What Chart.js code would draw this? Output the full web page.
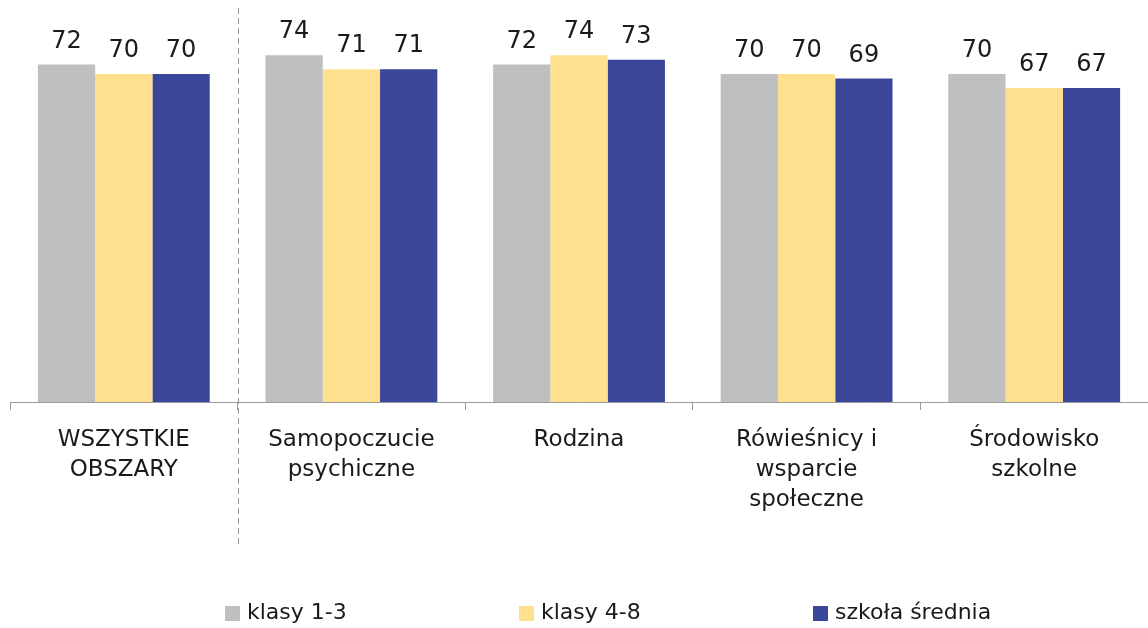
<!DOCTYPE html>
<html>
<head>
<meta charset="utf-8">
<script src="https://cdn.jsdelivr.net/npm/chart.js@4.4.0/dist/chart.umd.min.js"></script>
<style>
  html, body { margin: 0; padding: 0; background: #fff; }
  #wrap { width: 1148px; height: 628px; }
</style>
</head>
<body>
<div id="wrap"><canvas id="wellbeingChart" width="1148" height="628"></canvas></div>
<script>
  'use strict'

  var categories = [
    ['WSZYSTKIE', 'OBSZARY'],
    ['Samopoczucie', 'psychiczne'],
    ['Rodzina'],
    ['Rówieśnicy i', 'wsparcie', 'społeczne'],
    ['Środowisko', 'szkolne']
  ];
  var seriesNames = ['klasy 1-3', 'klasy 4-8', 'szkoła średnia'];
  var grades13 = [72, 74, 72, 70, 70];
  var grades48 = [70, 71, 74, 70, 67];
  var highSchool = [70, 71, 73, 69, 67];
  var colors = ['#BFBFBF', '#FFE08F', '#3A4698'];

  var FONT = '"DejaVu Sans", sans-serif';

  // value above each bar
  var valueLabels = {
    id: 'valueLabels',
    afterDatasetsDraw: function (chart) {
      var ctx = chart.ctx;
      ctx.save();
      ctx.fillStyle = '#1a1a1a';
      ctx.font = '24px ' + FONT;
      ctx.textAlign = 'center';
      ctx.textBaseline = 'bottom';
      chart.data.datasets.forEach(function (ds, i) {
        chart.getDatasetMeta(i).data.forEach(function (bar, j) {
          ctx.fillText(ds.data[j], bar.x, bar.y - 11);
        });
      });
      ctx.restore();
    }
  };

  // dashed separator after the first group + legend row at the bottom
  var extras = {
    id: 'extras',
    afterDraw: function (chart) {
      var ctx = chart.ctx;
      var x = chart.scales.x;
      var sep = Math.round((x.getPixelForValue(0) + x.getPixelForValue(1)) / 2) + 0.5;
      ctx.save();
      ctx.strokeStyle = '#9A9A9A';
      ctx.lineWidth = 1;
      ctx.setLineDash([6, 4]);
      ctx.beginPath();
      ctx.moveTo(sep, 8);
      ctx.lineTo(sep, 548);
      ctx.stroke();
      ctx.setLineDash([]);

      ctx.font = '22px ' + FONT;
      ctx.textBaseline = 'middle';
      ctx.textAlign = 'left';
      var startX = 225, step = 294, y = 613;
      chart.data.datasets.forEach(function (ds, i) {
        var lx = startX + i * step;
        ctx.fillStyle = ds.backgroundColor;
        ctx.fillRect(lx, y - 7, 15, 15);
        ctx.fillStyle = '#1a1a1a';
        ctx.fillText(ds.label, lx + 22, y);
      });
      ctx.restore();
    }
  };

  var ctx1 = document.getElementById('wellbeingChart').getContext('2d');
  var wellbeingChart = new Chart(ctx1, {
    type: 'bar',
    data: {
      labels: categories,
      datasets: [
        { label: seriesNames[0], data: grades13, backgroundColor: colors[0] },
        { label: seriesNames[1], data: grades48, backgroundColor: colors[1] },
        { label: seriesNames[2], data: highSchool, backgroundColor: colors[2] }
      ]
    },
    options: {
      responsive: false,
      animation: false,
      devicePixelRatio: 1,
      layout: { padding: { top: 27, left: 10, right: 0, bottom: 0 } },
      datasets: { bar: { barPercentage: 1, categoryPercentage: 0.755 } },
      plugins: {
        legend: { display: false },
        tooltip: { enabled: false }
      },
      scales: {
        y: {
          display: false,
          min: 0,
          max: 80
        },
        x: {
          grid: {
            drawOnChartArea: false,
            offset: true,
            color: '#9A9A9A',
            tickLength: 8
          },
          border: { color: '#9A9A9A', width: 1 },
          ticks: {
            color: '#1a1a1a',
            padding: 15,
            maxRotation: 0,
            autoSkip: false,
            font: { family: FONT, size: 23, lineHeight: 1.3 }
          },
          afterFit: function (scale) { scale.height = 226; }
        }
      }
    },
    plugins: [valueLabels, extras]
  });
</script>
</body>
</html>
